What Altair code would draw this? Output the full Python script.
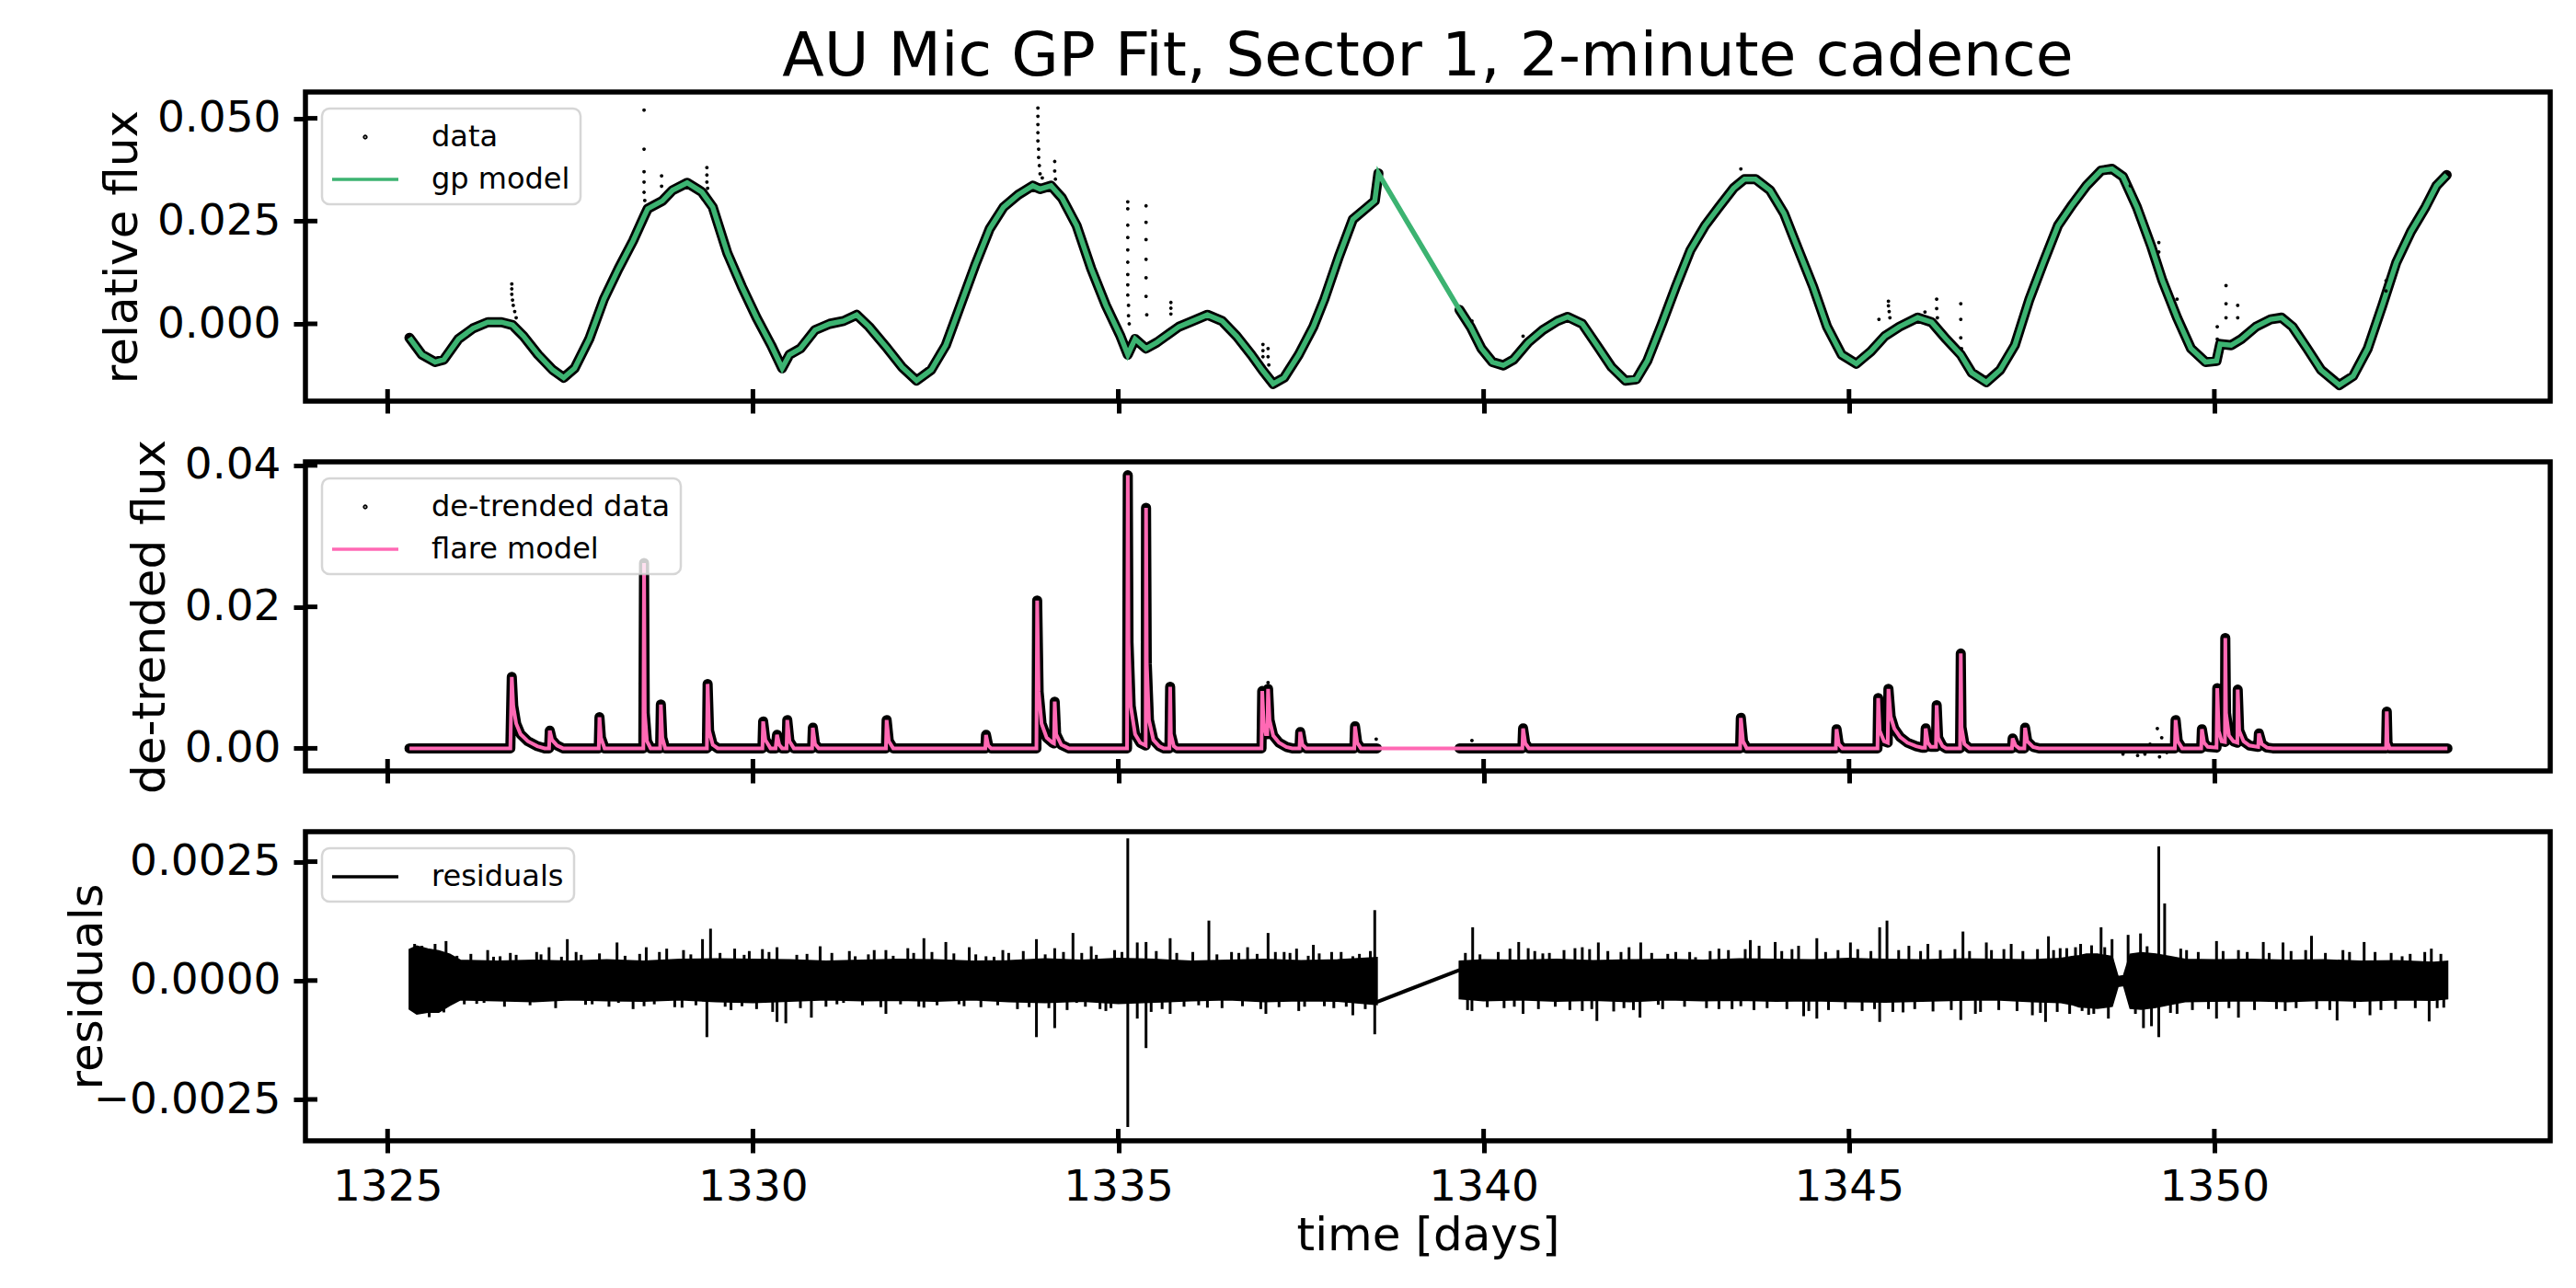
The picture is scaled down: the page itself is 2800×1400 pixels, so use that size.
import altair as alt
import pandas as pd

FONT = "DejaVu Sans"
W, H = 2440, 336
TICK = 13
X_DOMAIN = [1323.876, 1354.597]
TOP_DOMAIN = [-0.0188, 0.0564]
MID_DOMAIN = [-0.0032, 0.0405]
RES_DOMAIN = [-0.00337, 0.00313]
GAP = 1339.0

x_ticks = [1325, 1330, 1335, 1340, 1345, 1350]
top_ticks = [0.0, 0.025, 0.05]
mid_ticks = [0.0, 0.02, 0.04]
res_ticks = [-0.0025, 0.0, 0.0025]

GREEN = "#3cb371"
PINK = "#ff69b4"
DOT = "M-0.05,0A0.05,0.05,0,1,0,0.05,0A0.05,0.05,0,1,0,-0.05,0Z"
DASH = "M-2,0L2,0"

# ---------------- top panel: GP model ----------------
gp_t = [1325.30, 1325.47, 1325.65, 1325.77, 1325.97, 1326.17, 1326.37, 1326.56, 1326.71, 1326.86,
        1327.06, 1327.26, 1327.41, 1327.56, 1327.76, 1327.96, 1328.16, 1328.36, 1328.51, 1328.56,
        1328.76, 1328.90, 1329.10, 1329.30, 1329.45, 1329.65, 1329.85, 1330.05, 1330.25, 1330.40,
        1330.50, 1330.65, 1330.85, 1331.05, 1331.24, 1331.42, 1331.59, 1331.84, 1332.04, 1332.24,
        1332.44, 1332.64, 1332.84, 1333.04, 1333.24, 1333.43, 1333.63, 1333.83, 1333.93, 1334.08,
        1334.23, 1334.43, 1334.63, 1334.83, 1335.03, 1335.13, 1335.23, 1335.38, 1335.53, 1335.83,
        1336.02, 1336.22, 1336.42, 1336.62, 1336.82, 1336.97, 1337.12, 1337.27, 1337.47, 1337.67,
        1337.82, 1338.02, 1338.21, 1338.41, 1338.51, 1338.56,
        1339.67, 1339.82, 1339.97, 1340.12, 1340.27, 1340.41, 1340.61, 1340.81, 1341.01, 1341.15,
        1341.35, 1341.55, 1341.75, 1341.94, 1342.09, 1342.24, 1342.44, 1342.63, 1342.83, 1343.03,
        1343.22, 1343.42, 1343.57, 1343.72, 1343.92, 1344.11, 1344.31, 1344.51, 1344.70, 1344.90,
        1345.10, 1345.30, 1345.49, 1345.69, 1345.94, 1346.13, 1346.33, 1346.53, 1346.68, 1346.88,
        1347.07, 1347.27, 1347.47, 1347.66, 1347.86, 1348.06, 1348.25, 1348.45, 1348.60, 1348.75,
        1348.94, 1349.14, 1349.29, 1349.49, 1349.68, 1349.88, 1350.03, 1350.08, 1350.23, 1350.37,
        1350.57, 1350.77, 1350.92, 1351.07, 1351.27, 1351.46, 1351.71, 1351.90, 1352.10, 1352.30,
        1352.49, 1352.69, 1352.89, 1353.04, 1353.18]
gp_v = [-0.0034, -0.0075, -0.0093, -0.0087, -0.0037, -0.0011, 0.0004, 0.0004, -0.0003, -0.0030,
        -0.0075, -0.0112, -0.0131, -0.0108, -0.0037, 0.0060, 0.0134, 0.0202, 0.0261, 0.0280,
        0.0299, 0.0325, 0.0343, 0.0321, 0.0284, 0.0172, 0.0090, 0.0015, -0.0052, -0.0108,
        -0.0075, -0.0060, -0.0015, 0.0000, 0.0007, 0.0022, -0.0007, -0.0060, -0.0105, -0.0138,
        -0.0112, -0.0052, 0.0045, 0.0142, 0.0231, 0.0284, 0.0314, 0.0336, 0.0328, 0.0336,
        0.0306, 0.0239, 0.0134, 0.0045, -0.0030, -0.0075, -0.0037, -0.0060, -0.0045, -0.0007,
        0.0007, 0.0022, 0.0007, -0.0030, -0.0075, -0.0112, -0.0146, -0.0131, -0.0075, -0.0007,
        0.0060, 0.0164, 0.0254, 0.0284, 0.0299, 0.0366,
        0.0034, -0.0007, -0.0060, -0.0093, -0.0101, -0.0087, -0.0045, -0.0015, 0.0007, 0.0017,
        0.0000, -0.0052, -0.0105, -0.0138, -0.0135, -0.0090, 0.0000, 0.0090, 0.0179, 0.0239,
        0.0284, 0.0330, 0.0352, 0.0352, 0.0325, 0.0269, 0.0179, 0.0090, -0.0007, -0.0075,
        -0.0097, -0.0067, -0.0030, -0.0007, 0.0015, 0.0004, -0.0037, -0.0075, -0.0119, -0.0142,
        -0.0112, -0.0052, 0.0060, 0.0149, 0.0239, 0.0291, 0.0336, 0.0373, 0.0377, 0.0358,
        0.0284, 0.0187, 0.0105, 0.0015, -0.0060, -0.0093, -0.0090, -0.0049, -0.0052, -0.0037,
        -0.0007, 0.0011, 0.0015, -0.0007, -0.0060, -0.0112, -0.0149, -0.0127, -0.0060, 0.0045,
        0.0149, 0.0224, 0.0284, 0.0336, 0.0362]

# data points that stand off the model (flare streaks)
top_pts = [
    [1326.70, 0.0097], [1326.70, 0.0085], [1326.70, 0.0072], [1326.71, 0.0058], [1326.72, 0.0045],
    [1326.74, 0.0030], [1326.76, 0.0015],
    [1328.51, 0.0520], [1328.51, 0.0425], [1328.51, 0.0370], [1328.51, 0.0345], [1328.51, 0.0320],
    [1328.52, 0.0300], [1328.75, 0.0360], [1328.75, 0.0335],
    [1329.37, 0.0380], [1329.37, 0.0362], [1329.37, 0.0345], [1329.38, 0.0330],
    [1333.90, 0.0525], [1333.90, 0.0505], [1333.90, 0.0485], [1333.90, 0.0465], [1333.90, 0.0445],
    [1333.91, 0.0425], [1333.91, 0.0405], [1333.92, 0.0385], [1333.93, 0.0365], [1333.96, 0.0355],
    [1334.13, 0.0395], [1334.13, 0.0372], [1334.14, 0.0352],
    [1335.13, 0.0297], [1335.13, 0.0280], [1335.13, 0.0240], [1335.13, 0.0210], [1335.13, 0.0180],
    [1335.13, 0.0150], [1335.13, 0.0120], [1335.13, 0.0095], [1335.13, 0.0070], [1335.14, 0.0045],
    [1335.14, 0.0020], [1335.15, 0.0000],
    [1335.38, 0.0287], [1335.38, 0.0247], [1335.38, 0.0205], [1335.38, 0.0157], [1335.38, 0.0112],
    [1335.38, 0.0067], [1335.39, 0.0022],
    [1335.72, 0.0052], [1335.72, 0.0038], [1335.72, 0.0024],
    [1336.98, -0.0050], [1336.98, -0.0065], [1336.98, -0.0080], [1337.05, -0.0060], [1337.05, -0.0080],
    [1337.06, -0.0100],
    [1339.84, 0.0007], [1340.54, -0.0030], [1343.52, 0.0377],
    [1345.41, 0.0011], [1345.54, 0.0055], [1345.54, 0.0044], [1345.55, 0.0030], [1345.56, 0.0015],
    [1346.04, 0.0029], [1346.20, 0.0060], [1346.20, 0.0037], [1346.21, 0.0015],
    [1346.53, 0.0049], [1346.53, 0.0011], [1346.53, -0.0034], [1346.54, -0.0060],
    [1348.85, 0.0336], [1349.24, 0.0198], [1349.24, 0.0175], [1349.49, 0.0060],
    [1350.04, -0.0007], [1350.04, -0.0037], [1350.16, 0.0093], [1350.16, 0.0049], [1350.16, 0.0015],
    [1350.32, 0.0045], [1350.32, 0.0015], [1352.35, 0.0105], [1352.35, 0.0080],
]

# ---------------- middle panel: flare model ----------------
flare_model = [
    [1325.30, 0], [1326.68, 0], [1326.70, 0.0101], [1326.72, 0.0060], [1326.76, 0.0035],
    [1326.82, 0.0020], [1326.92, 0.0010], [1327.05, 0.0003], [1327.15, 0], [1327.21, 0],
    [1327.22, 0.0025], [1327.25, 0.0012], [1327.32, 0.0004], [1327.40, 0], [1327.89, 0],
    [1327.90, 0.0044], [1327.92, 0.0015], [1327.97, 0], [1328.50, 0], [1328.51, 0.0262],
    [1328.52, 0.0050], [1328.55, 0.0010], [1328.60, 0], [1328.73, 0], [1328.74, 0.0062],
    [1328.76, 0.0015], [1328.80, 0], [1329.37, 0], [1329.38, 0.0091], [1329.40, 0.0025],
    [1329.45, 0.0005], [1329.52, 0], [1330.13, 0], [1330.14, 0.0038], [1330.17, 0.0012],
    [1330.24, 0], [1330.31, 0], [1330.33, 0.0019], [1330.36, 0.0005], [1330.40, 0],
    [1330.46, 0], [1330.47, 0.0040], [1330.50, 0.0010], [1330.56, 0], [1330.81, 0],
    [1330.82, 0.0029], [1330.85, 0.0006], [1330.90, 0], [1331.82, 0], [1331.83, 0.0040],
    [1331.86, 0.0010], [1331.92, 0], [1333.18, 0], [1333.19, 0.0019], [1333.22, 0.0004],
    [1333.26, 0], [1333.88, 0], [1333.89, 0.0209], [1333.91, 0.0080], [1333.95, 0.0035],
    [1334.02, 0.0015], [1334.10, 0.0008], [1334.12, 0.0007], [1334.13, 0.0066], [1334.15, 0.0020],
    [1334.22, 0.0005], [1334.32, 0], [1335.12, 0], [1335.13, 0.0386], [1335.14, 0.0150],
    [1335.17, 0.0060], [1335.23, 0.0020], [1335.30, 0.0008], [1335.375, 0.0004], [1335.38, 0.0340],
    [1335.39, 0.0120], [1335.42, 0.0040], [1335.48, 0.0012], [1335.56, 0.0003], [1335.62, 0],
    [1335.70, 0], [1335.71, 0.0087], [1335.72, 0.0020], [1335.76, 0.0003], [1335.80, 0],
    [1336.96, 0], [1336.97, 0.0081], [1336.99, 0.0035], [1337.02, 0.0020], [1337.04, 0.0020],
    [1337.05, 0.0084], [1337.07, 0.0040], [1337.12, 0.0018], [1337.20, 0.0008], [1337.30, 0.0002],
    [1337.38, 0], [1337.48, 0], [1337.49, 0.0023], [1337.52, 0.0005], [1337.57, 0],
    [1338.23, 0], [1338.24, 0.0031], [1338.27, 0.0008], [1338.32, 0], [1338.54, 0],
    [1339.67, 0], [1340.53, 0], [1340.54, 0.0028], [1340.57, 0.0007], [1340.62, 0],
    [1343.51, 0], [1343.52, 0.0043], [1343.55, 0.0010], [1343.60, 0], [1344.82, 0],
    [1344.83, 0.0027], [1344.86, 0.0006], [1344.91, 0], [1345.39, 0], [1345.40, 0.0071],
    [1345.42, 0.0025], [1345.48, 0.0010], [1345.53, 0.0008], [1345.54, 0.0084], [1345.57, 0.0045],
    [1345.62, 0.0028], [1345.70, 0.0016], [1345.80, 0.0008], [1345.92, 0.0003], [1346.00, 0.0001],
    [1346.04, 0.0001], [1346.05, 0.0028], [1346.08, 0.0008], [1346.12, 0.0002], [1346.19, 0.0002],
    [1346.20, 0.0061], [1346.22, 0.0015], [1346.28, 0.0003], [1346.33, 0], [1346.52, 0],
    [1346.53, 0.0134], [1346.54, 0.0030], [1346.58, 0.0006], [1346.65, 0], [1347.23, 0],
    [1347.24, 0.0014], [1347.28, 0.0004], [1347.33, 0], [1347.40, 0], [1347.41, 0.0029],
    [1347.44, 0.0010], [1347.52, 0.0002], [1347.60, 0], [1349.46, 0], [1349.47, 0.0040],
    [1349.50, 0.0010], [1349.56, 0], [1349.82, 0], [1349.83, 0.0027], [1349.86, 0.0008],
    [1349.91, 0.0002], [1350.03, 0.0001], [1350.04, 0.0085], [1350.06, 0.0025], [1350.10, 0.0010],
    [1350.145, 0.0009], [1350.15, 0.0156], [1350.16, 0.0050], [1350.20, 0.0018], [1350.26, 0.0010],
    [1350.315, 0.0008], [1350.32, 0.0083], [1350.34, 0.0025], [1350.40, 0.0010], [1350.48, 0.0004],
    [1350.60, 0.0002], [1350.61, 0.0021], [1350.65, 0.0006], [1350.72, 0.0001], [1350.80, 0],
    [1352.35, 0], [1352.36, 0.0052], [1352.37, 0.0008], [1352.40, 0], [1353.19, 0],
]

mid_pts = [
    [1337.05, 0.0093], [1338.53, 0.0013], [1339.84, 0.0011], [1348.75, -0.0008], [1348.95, -0.0010],
    [1349.05, -0.0008], [1349.12, 0.0006], [1349.22, 0.0028], [1349.25, -0.0012], [1349.28, 0.0015],
    [1349.35, -0.0006],
]

# ---------------- bottom panel: residuals (envelope + spikes) ----------------
res_env_t = [1325.30, 1325.40, 1325.55, 1325.70, 1325.85, 1326.0, 1326.5, 1327.0, 1327.5, 1328.0,
             1328.5, 1329.0, 1329.5, 1330.0, 1330.5, 1331.0, 1331.5, 1332.0, 1332.5, 1333.0,
             1333.5, 1334.0, 1334.5, 1335.0, 1335.5, 1336.0, 1336.5, 1337.0, 1337.5, 1338.0,
             1338.54,
             1339.67, 1340.0, 1340.5, 1341.0, 1341.5, 1342.0, 1342.5, 1343.0, 1343.5, 1344.0,
             1344.5, 1345.0, 1345.5, 1346.0, 1346.5, 1347.0, 1347.5, 1347.9, 1348.05, 1348.15,
             1348.25, 1348.4, 1348.6, 1348.68, 1348.76, 1348.85, 1349.0, 1349.2, 1349.4, 1349.6,
             1350.0, 1350.5, 1351.0, 1351.5, 1352.0, 1352.5, 1353.0, 1353.19]
res_env_hi = [0.00065, 0.00072, 0.00066, 0.00062, 0.00055, 0.00042, 0.00040, 0.00042, 0.00040, 0.00043,
              0.00040, 0.00044, 0.00045, 0.00044, 0.00043, 0.00040, 0.00042, 0.00044, 0.00043, 0.00040,
              0.00041, 0.00045, 0.00042, 0.00046, 0.00044, 0.00040, 0.00042, 0.00044, 0.00041, 0.00043,
              0.00048,
              0.00040, 0.00043, 0.00042, 0.00044, 0.00041, 0.00043, 0.00044, 0.00042, 0.00045, 0.00044,
              0.00043, 0.00046, 0.00044, 0.00043, 0.00045, 0.00044, 0.00043, 0.00046, 0.00050, 0.00052,
              0.00055, 0.00055, 0.00050, 0.00008, 0.00010, 0.00055, 0.00058, 0.00055, 0.00050, 0.00044,
              0.00043, 0.00044, 0.00042, 0.00043, 0.00040, 0.00041, 0.00038, 0.00040]
res_env_lo = [-0.00060, -0.00070, -0.00066, -0.00066, -0.00052, -0.00040, -0.00042, -0.00044, -0.00040, -0.00042,
              -0.00043, -0.00040, -0.00044, -0.00046, -0.00043, -0.00040, -0.00042, -0.00041, -0.00043, -0.00040,
              -0.00044, -0.00046, -0.00043, -0.00048, -0.00045, -0.00042, -0.00040, -0.00044, -0.00042, -0.00043,
              -0.00050,
              -0.00038, -0.00042, -0.00040, -0.00043, -0.00041, -0.00044, -0.00040, -0.00042, -0.00041, -0.00043,
              -0.00042, -0.00044, -0.00045, -0.00043, -0.00041, -0.00040, -0.00044, -0.00046, -0.00050, -0.00055,
              -0.00056, -0.00058, -0.00054, -0.00012, -0.00010, -0.00058, -0.00060, -0.00056, -0.00050, -0.00044,
              -0.00043, -0.00042, -0.00044, -0.00041, -0.00043, -0.00040, -0.00041, -0.00038]
res_gap = [[1338.54, -0.00045], [1339.67, 0.00022]]
res_spikes = [
    [1325.37, 0.00077], [1325.47, 0.00073], [1325.65, 0.00077], [1325.80, 0.00083], [1326.37, 0.00064],
    [1326.54, 0.00051], [1326.76, 0.00054], [1327.04, 0.00060], [1327.21, 0.00070], [1327.46, 0.00087],
    [1327.58, 0.00060], [1328.14, 0.00080], [1328.54, 0.00070], [1328.82, 0.00067], [1329.05, 0.00064],
    [1329.31, 0.00087], [1329.42, 0.00109], [1329.75, 0.00067], [1329.95, 0.00062], [1330.13, 0.00066],
    [1330.33, 0.00070], [1330.92, 0.00072], [1331.40, 0.00051], [1331.66, 0.00064], [1331.82, 0.00064],
    [1332.12, 0.00068], [1332.34, 0.00089], [1332.64, 0.00081], [1332.96, 0.00070], [1333.19, 0.00051],
    [1333.42, 0.00064], [1333.88, 0.00087], [1334.13, 0.00068], [1334.38, 0.00100], [1334.63, 0.00072],
    [1334.95, 0.00064], [1335.13, 0.00299], [1335.26, 0.00080], [1335.38, 0.00081], [1335.71, 0.00089],
    [1336.24, 0.00126], [1336.55, 0.00060], [1336.77, 0.00070], [1337.05, 0.00100], [1337.27, 0.00060],
    [1337.44, 0.00067], [1337.67, 0.00075], [1337.92, 0.00060], [1338.21, 0.00051], [1338.51, 0.00148],
    [1325.37, -0.00064], [1325.57, -0.00077], [1325.77, -0.00067], [1326.32, -0.00047], [1326.86, -0.00044],
    [1327.71, -0.00051], [1328.16, -0.00047], [1328.51, -0.00054], [1329.03, -0.00057], [1329.37, -0.00119],
    [1329.85, -0.00054], [1330.05, -0.00060], [1330.33, -0.00087], [1330.45, -0.00090], [1330.80, -0.00078],
    [1331.24, -0.00047], [1331.82, -0.00070], [1332.34, -0.00057], [1332.89, -0.00054], [1333.88, -0.00119],
    [1334.13, -0.00100], [1334.43, -0.00047], [1334.83, -0.00064], [1335.13, -0.00308], [1335.26, -0.00080],
    [1335.38, -0.00142], [1335.71, -0.00070], [1336.22, -0.00057], [1337.02, -0.00070], [1337.47, -0.00064],
    [1337.82, -0.00054], [1338.21, -0.00073], [1338.51, -0.00113],
    [1339.85, 0.00112], [1340.36, 0.00067], [1340.48, 0.00081], [1340.61, 0.00068], [1340.81, 0.00057],
    [1341.25, 0.00068], [1341.35, 0.00070], [1341.57, 0.00080], [1341.99, 0.00070], [1342.15, 0.00080],
    [1342.63, 0.00060], [1342.90, 0.00049], [1343.22, 0.00067], [1343.65, 0.00085], [1343.77, 0.00073],
    [1343.99, 0.00081], [1344.31, 0.00073], [1344.56, 0.00089], [1345.02, 0.00080], [1345.42, 0.00112],
    [1345.52, 0.00126], [1345.82, 0.00073], [1346.08, 0.00077], [1346.56, 0.00103], [1346.88, 0.00080],
    [1347.22, 0.00077], [1347.73, 0.00093], [1347.89, 0.00068], [1348.17, 0.00077], [1348.45, 0.00112],
    [1348.60, 0.00087], [1348.82, 0.00096], [1348.99, 0.00099], [1349.24, 0.00282], [1349.32, 0.00162],
    [1349.54, 0.00067], [1350.03, 0.00083], [1350.33, 0.00064], [1350.67, 0.00081], [1350.94, 0.00080],
    [1351.33, 0.00094], [1351.76, 0.00064], [1352.05, 0.00081], [1352.57, 0.00051], [1352.97, 0.00067],
    [1339.84, -0.00064], [1340.54, -0.00070], [1341.35, -0.00064], [1341.55, -0.00085], [1342.14, -0.00078],
    [1342.39, -0.00051], [1343.22, -0.00060], [1343.52, -0.00054], [1344.38, -0.00075], [1344.56, -0.00080],
    [1345.42, -0.00087], [1345.74, -0.00067], [1346.53, -0.00083], [1346.73, -0.00070], [1347.51, -0.00073],
    [1347.69, -0.00087], [1348.19, -0.00064], [1348.35, -0.00070], [1348.55, -0.00080], [1349.03, -0.00100],
    [1349.14, -0.00096], [1349.24, -0.00119], [1349.49, -0.00070], [1350.03, -0.00080], [1350.33, -0.00078],
    [1350.97, -0.00064], [1351.68, -0.00084], [1352.13, -0.00073], [1352.94, -0.00086], [1353.14, -0.00057],
]
# smaller hairs along the edges of the residual band
res_hair = [
    [1325.95, 0.00052], [1326.05, -0.00050], [1326.14, 0.00056], [1326.22, -0.00049], [1326.45, 0.00050],
    [1326.60, -0.00055], [1326.68, 0.00058], [1326.95, -0.00052], [1327.10, 0.00055], [1327.30, -0.00058],
    [1327.38, 0.00050], [1327.65, 0.00054], [1327.80, -0.00050], [1327.90, 0.00057], [1328.03, -0.00055],
    [1328.25, 0.00052], [1328.36, -0.00060], [1328.45, 0.00056], [1328.65, -0.00050], [1328.72, 0.00060],
    [1328.93, -0.00056], [1329.15, 0.00055], [1329.22, -0.00052], [1329.55, 0.00058], [1329.62, -0.00055],
    [1329.70, -0.00062], [1329.88, 0.00054], [1330.22, 0.00060], [1330.27, -0.00066], [1330.60, 0.00054],
    [1330.65, -0.00058], [1330.74, 0.00056], [1331.00, -0.00055], [1331.08, 0.00058], [1331.15, -0.00050],
    [1331.32, 0.00062], [1331.50, -0.00052], [1331.58, 0.00055], [1331.75, -0.00056], [1331.92, 0.00052],
    [1332.02, -0.00050], [1332.20, 0.00058], [1332.27, -0.00055], [1332.45, 0.00060], [1332.52, -0.00052],
    [1332.75, 0.00057], [1332.82, -0.00050], [1333.05, 0.00055], [1333.12, -0.00056], [1333.30, 0.00050],
    [1333.35, -0.00052], [1333.50, 0.00058], [1333.62, -0.00060], [1333.70, 0.00062], [1333.78, -0.00056],
    [1334.00, 0.00055], [1334.05, -0.00058], [1334.25, 0.00060], [1334.30, -0.00062], [1334.50, 0.00058],
    [1334.55, -0.00055], [1334.70, 0.00054], [1334.75, -0.00060], [1334.90, -0.00058], [1335.05, 0.00060],
    [1335.45, -0.00066], [1335.52, 0.00062], [1335.60, -0.00060], [1335.80, 0.00058], [1335.90, -0.00055],
    [1336.02, 0.00060], [1336.10, -0.00052], [1336.35, 0.00055], [1336.42, -0.00058], [1336.65, 0.00058],
    [1336.70, -0.00054], [1336.90, 0.00056], [1336.95, -0.00060], [1337.15, 0.00060], [1337.20, -0.00056],
    [1337.35, 0.00058], [1337.55, -0.00055], [1337.60, 0.00052], [1337.75, 0.00057], [1337.95, -0.00058],
    [1338.05, 0.00060], [1338.12, -0.00055], [1338.30, 0.00056], [1338.38, -0.00060], [1338.45, 0.00062],
    [1339.75, 0.00058], [1339.78, -0.00062], [1339.95, 0.00055], [1340.05, -0.00056], [1340.20, 0.00060],
    [1340.28, -0.00058], [1340.42, -0.00055], [1340.70, 0.00062], [1340.75, -0.00060], [1340.90, 0.00058],
    [1340.98, -0.00055], [1341.10, 0.00064], [1341.18, -0.00062], [1341.45, 0.00066], [1341.48, -0.00060],
    [1341.70, 0.00062], [1341.78, -0.00065], [1341.88, 0.00060], [1341.92, -0.00058], [1342.05, -0.00062],
    [1342.30, 0.00058], [1342.45, -0.00060], [1342.52, 0.00056], [1342.75, -0.00055], [1342.82, 0.00060],
    [1343.05, -0.00058], [1343.10, 0.00062], [1343.35, 0.00064], [1343.40, -0.00060], [1343.58, 0.00066],
    [1343.70, -0.00062], [1343.88, -0.00058], [1344.08, 0.00062], [1344.15, -0.00060], [1344.22, 0.00066],
    [1344.45, -0.00064], [1344.68, 0.00060], [1344.72, -0.00062], [1344.85, 0.00064], [1344.95, -0.00060],
    [1345.12, 0.00066], [1345.18, -0.00064], [1345.30, 0.00062], [1345.35, -0.00060], [1345.60, -0.00066],
    [1345.68, 0.00064], [1345.90, -0.00060], [1345.98, 0.00062], [1346.15, -0.00065], [1346.25, 0.00064],
    [1346.40, -0.00062], [1346.45, 0.00066], [1346.65, 0.00062], [1346.80, -0.00066], [1346.95, 0.00064],
    [1347.05, -0.00062], [1347.12, 0.00066], [1347.30, -0.00064], [1347.38, 0.00062], [1347.58, 0.00066],
    [1347.62, -0.00068], [1347.80, 0.00064], [1347.85, -0.00066], [1347.98, 0.00068], [1348.02, -0.00070],
    [1348.10, 0.00070], [1348.28, -0.00072], [1348.32, 0.00074], [1348.50, 0.00070], [1348.92, -0.00070],
    [1349.08, 0.00072], [1349.40, -0.00068], [1349.62, 0.00064], [1349.70, -0.00062], [1349.78, 0.00060],
    [1349.92, -0.00060], [1350.12, 0.00062], [1350.20, -0.00058], [1350.45, 0.00060], [1350.55, -0.00062],
    [1350.75, 0.00058], [1350.85, -0.00060], [1351.05, 0.00062], [1351.12, -0.00058], [1351.25, 0.00064],
    [1351.40, -0.00060], [1351.52, 0.00058], [1351.58, -0.00062], [1351.85, 0.00060], [1351.92, -0.00058],
    [1352.20, 0.00060], [1352.28, -0.00062], [1352.42, 0.00058], [1352.48, -0.00060], [1352.68, 0.00056],
    [1352.75, -0.00058], [1352.88, 0.00060], [1353.05, -0.00058], [1353.10, 0.00056],
]


def orbit_of(ts):
    return [1 if t < GAP else 2 for t in ts]


def X(labels):
    sc = alt.Scale(domain=X_DOMAIN, nice=False, zero=False)
    if labels:
        ax = alt.Axis(values=x_ticks, format="d", labelFlush=False, title="time [days]")
    else:
        ax = alt.Axis(values=x_ticks, labels=False, title=None)
    return alt.X("t:Q", scale=sc, axis=ax)


def Y(field, domain, ticks, fmt, title):
    return alt.Y(f"{field}:Q", scale=alt.Scale(domain=domain, nice=False, zero=False),
                 axis=alt.Axis(values=ticks, format=fmt, title=title))


def legend(symbol_type=None):
    kw = dict(title=None, orient="top-left", offset=18, padding=11, cornerRadius=8,
              fillColor="rgba(255,255,255,0.8)", strokeColor="rgba(204,204,204,0.8)",
              labelFont=FONT, labelFontSize=32, labelColor="black", labelLimit=0,
              symbolSize=1296, symbolStrokeWidth=3.5, symbolOffset=16, labelOffset=52,
              rowPadding=10)
    if symbol_type:
        kw["symbolType"] = symbol_type
    return alt.Legend(**kw)


def inner_ticks(labels_x, ydom, yticks, fmt, title):
    xt = alt.Chart(pd.DataFrame({"t": x_ticks})).mark_rule(color="black", strokeWidth=5).encode(
        x=X(labels_x), y=alt.value(H), y2=alt.value(H - TICK))
    yt = alt.Chart(pd.DataFrame({"v": yticks})).mark_rule(color="black", strokeWidth=5).encode(
        y=Y("v", ydom, yticks, fmt, title), x=alt.value(0), x2=alt.value(TICK))
    return [xt, yt]


# ---------------- panel 1 ----------------
df_gp = pd.DataFrame({"t": gp_t, "v": gp_v})
df_gp["orbit"] = orbit_of(gp_t)
df_tp = pd.DataFrame(top_pts, columns=["t", "v"])
df_tp["series"] = "data"
y1 = Y("v", TOP_DOMAIN, top_ticks, ".3f", "relative flux")
c1 = alt.Color("series:N", scale=alt.Scale(domain=["data", "gp model"], range=["black", GREEN]), legend=legend())
s1 = alt.Shape("series:N", scale=alt.Scale(domain=["data", "gp model"], range=[DOT, DASH]), legend=legend())
band1 = alt.Chart(df_gp).mark_line(color="black", strokeWidth=11, strokeJoin="round", strokeCap="round").encode(
    x=X(False), y=y1, detail="orbit:N")
model1 = alt.Chart(df_gp).mark_line(color=GREEN, strokeWidth=5.5).encode(x=X(False), y=y1)
pts1 = alt.Chart(df_tp).mark_point(filled=False, size=1296, strokeWidth=2, opacity=1).encode(
    x=X(False), y=y1, color=c1, shape=s1)
p1 = alt.layer(band1, model1, pts1, *inner_ticks(False, TOP_DOMAIN, top_ticks, ".3f", "relative flux")).properties(
    width=W, height=H)

# ---------------- panel 2 ----------------
df_fm = pd.DataFrame(flare_model, columns=["t", "v"])
df_fm["orbit"] = orbit_of(df_fm["t"])
df_mp = pd.DataFrame(mid_pts, columns=["t", "v"])
df_mp["series"] = "de-trended data"
y2 = Y("v", MID_DOMAIN, mid_ticks, ".2f", "de-trended flux")
dom2 = ["de-trended data", "flare model"]
c2 = alt.Color("series:N", scale=alt.Scale(domain=dom2, range=["black", PINK]), legend=legend())
s2 = alt.Shape("series:N", scale=alt.Scale(domain=dom2, range=[DOT, DASH]), legend=legend())
band2 = alt.Chart(df_fm).mark_line(color="black", strokeWidth=11, strokeJoin="round", strokeCap="round").encode(
    x=X(False), y=y2, detail="orbit:N")
model2 = alt.Chart(df_fm).mark_line(color=PINK, strokeWidth=4).encode(x=X(False), y=y2)
pts2 = alt.Chart(df_mp).mark_point(filled=False, size=1296, strokeWidth=2, opacity=1).encode(
    x=X(False), y=y2, color=c2, shape=s2)
p2 = alt.layer(band2, model2, pts2, *inner_ticks(False, MID_DOMAIN, mid_ticks, ".2f", "de-trended flux")).properties(
    width=W, height=H)

# ---------------- panel 3 ----------------
df_env = pd.DataFrame({"t": res_env_t, "hi": res_env_hi, "lo": res_env_lo})
df_env["orbit"] = orbit_of(res_env_t)
df_gapl = pd.DataFrame(res_gap, columns=["t", "v"])
df_sp = pd.DataFrame(res_spikes + res_hair, columns=["t", "v"])
df_sp["z"] = 0.0
df_sp["series"] = "residuals"
y3 = Y("v", RES_DOMAIN, res_ticks, ".4f", "residuals")
area3 = alt.Chart(df_env).mark_area(color="black", stroke="black", strokeWidth=2).encode(
    x=X(True), y=Y("hi", RES_DOMAIN, res_ticks, ".4f", "residuals"), y2="lo:Q", detail="orbit:N")
gap3 = alt.Chart(df_gapl).mark_line(color="black", strokeWidth=4).encode(x=X(True), y=y3)
spk3 = alt.Chart(df_sp).mark_rule(strokeWidth=3).encode(
    x=X(True), y=y3, y2="z:Q",
    color=alt.Color("series:N", scale=alt.Scale(domain=["residuals"], range=["black"]), legend=legend(DASH)))
p3 = alt.layer(area3, gap3, spk3, *inner_ticks(True, RES_DOMAIN, res_ticks, ".4f", "residuals")).properties(
    width=W, height=H)

chart = alt.vconcat(p1, p2, p3, spacing=66, bounds="flush").resolve_scale(
    x="independent", y="independent", color="independent", shape="independent"
).properties(
    title=alt.TitleParams("AU Mic GP Fit, Sector 1, 2-minute cadence", font=FONT, fontSize=66.5,
                          fontWeight="normal", color="black", anchor="middle", frame="group",
                          offset=-51, baseline="alphabetic"),
    padding={"left": 59, "top": 20, "right": 10, "bottom": 10}
).configure_view(
    stroke="black", strokeWidth=5.5
).configure_axis(
    domain=False, grid=False, tickColor="black", tickWidth=5, tickSize=TICK,
    labelFont=FONT, labelFontSize=47, labelColor="black", labelPadding=14, labelLimit=0,
    titleFont=FONT, titleFontSize=50, titleFontWeight="normal", titleColor="black"
).configure_axisX(titlePadding=5).configure_axisY(titlePadding=12).configure_legend(strokeWidth=2.5)

chart.save("out.html", embed_options={"renderer": "svg", "actions": False})
